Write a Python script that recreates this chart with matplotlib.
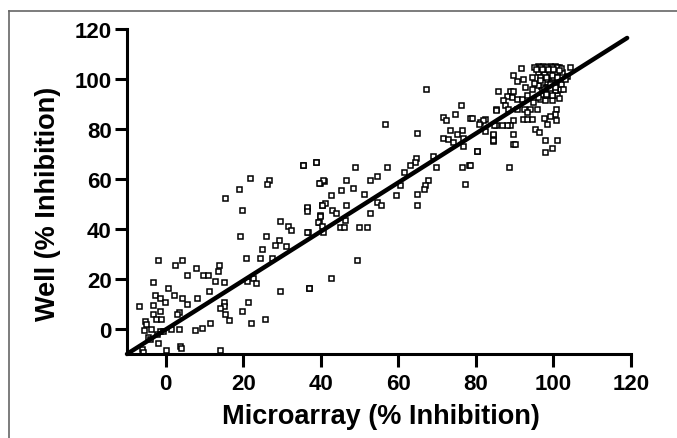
import matplotlib
matplotlib.use("Agg")
import matplotlib.pyplot as plt
from matplotlib.lines import Line2D

# Microarray vs well % inhibition
micro = [
    35.5, 38.7, 21.6, 26.5, 26.1, 39.8, 40.7, 19.0, 15.3, 19.6, 36.4, 40.3,
    29.5, 31.5, 32.3, 39.8, 39.4, 36.6, 19.2, 25.8, 29.1, 28.2, 31.1, 24.8,
    20.6, 24.3, 27.5, -2.1, 2.4, 4.3, 7.9, 13.8, 13.4, 5.4, 9.7, 11.0,
    12.6, 14.9, 22.6, 23.2, 20.9, -3.4, 0.5, 11.1, 29.5, 37.0, -6.9, -2.9,
    -1.6, -0.2, 2.2, 4.1, 5.4, 8.0, -3.4, -3.4, -1.5, -2.5, -1.2, 3.3,
    3.0, 14.9, 15.1, 14.0, 15.3, 16.2, 21.3, 19.7, 22.0, 25.6, -5.3, -5.2,
    -5.5, -3.8, -1.6, -0.6, 1.4, 3.3, 7.6, 9.3, 11.3, -4.7, -4.0, -2.3,
    -2.1, 0.1, 3.7, 4.0, -6.2, -5.8, 14.0,
    76.1, 71.6, 72.4, 74.6, 78.6, 81.0, 82.3, 85.2, 85.3, 56.5, 64.7, 73.3,
    76.3, 75.0, 71.6, 72.9, 74.2, 76.7, 76.6, 80.3, 82.3, 84.3, 84.5, 35.4,
    38.7, 48.9, 57.1, 64.5, 64.3, 63.0, 68.8, 69.7, 76.5, 78.3, 77.2, 40.6,
    39.6, 46.4, 48.3, 45.3, 52.6, 54.5, 61.4, 60.4, 67.7, 66.8, 66.6, 64.7,
    64.7, 51.2, 59.5, 42.6, 54.4, 55.6, 46.6, 36.3, 36.5, 41.0, 40.2, 42.8,
    43.9, 39.9, 52.8, 46.2, 39.3, 40.2, 44.9, 45.9, 49.9, 51.8, 36.5, 40.6,
    49.2, 42.6, 37.0, 67.0,
    91.5, 89.6, 90.7, 92.2, 92.6, 94.4, 96.1, 97.4, 99.1, 100.4, 101.3, 97.0,
    99.1, 104.3, 102.1, 103.4, 85.8, 88.8, 89.6, 87.9, 89.2, 90.5, 91.8, 93.1,
    87.1, 87.5, 85.3, 88.3, 92.4, 93.9, 95.7, 94.8, 96.5, 97.8, 99.5, 100.8,
    101.7, 100.4, 98.2, 96.9, 99.1, 100.6, 100.4, 99.1, 97.5, 98.4, 100.6, 92.2,
    93.1, 94.4, 95.2, 96.3, 89.6, 88.8, 87.9, 86.6, 89.5, 89.5, 84.5, 84.3,
    84.6, 81.9, 80.9, 78.9, 80.2, 78.5, 88.6, 97.8, 101.0, 99.5, 97.9, 93.1,
    90.5, 90.0,
    95.0, 96.5, 98.0, 99.5, 101.0, 102.0, 96.0, 97.5, 99.0, 100.5, 98.0, 99.5,
    101.0, 97.0, 96.0, 98.5, 100.0, 102.0, 97.0, 99.0, 100.5, 98.0, 96.0, 101.5,
    103.0, 99.0, 100.0,
    95.5, 97.0, 98.5, 100.0, 101.5, 96.5, 98.0, 99.5, 101.0, 97.5, 99.0, 100.5,
    95.0, 96.5, 98.0, 99.5, 102.5, 94.5,
]
well = [
    65.6, 67.0, 60.6, 59.7, 58.0, 58.4, 59.3, 56.1, 52.4, 47.6, 48.4, 49.5,
    43.4, 41.1, 39.7, 45.5, 42.8, 38.9, 37.4, 37.4, 35.8, 33.6, 33.3, 32.1,
    28.3, 28.3, 28.5, 27.6, 25.7, 27.6, 24.5, 25.6, 23.2, 21.6, 21.6, 21.6,
    19.2, 18.7, 20.6, 18.6, 19.2, 18.7, 16.6, 15.3, 15.3, 16.6, 9.3, 13.7,
    12.6, 11.0, 13.5, 12.6, 10.2, 12.6, 9.6, 6.2, 7.3, 4.0, 4.0, 7.0,
    6.0, 11.0, 9.3, 8.6, 6.0, 3.6, 11.0, 7.3, 2.4, 4.1, 3.3, 2.0,
    -0.4, 0.0, -0.7, -0.7, 0.0, 0.0, -0.4, 0.4, 2.4, -3.3, -4.0, -2.0,
    -5.7, -8.3, -6.6, -7.5, -7.9, -9.0, -8.3,
    89.8, 84.9, 83.6, 86.0, 84.6, 82.7, 84.0, 88.0, 81.6, 81.9, 78.5, 79.6,
    79.6, 77.9, 76.6, 76.0, 74.7, 76.3, 73.4, 71.4, 79.2, 77.6, 75.4, 65.7,
    67.0, 65.0, 65.0, 68.6, 67.0, 65.7, 69.4, 65.0, 65.0, 65.7, 58.1, 59.7,
    58.4, 59.7, 56.4, 55.5, 59.7, 61.4, 63.0, 57.5, 59.7, 57.7, 56.1, 54.1,
    49.5, 54.1, 53.5, 53.5, 50.8, 49.8, 49.5, 48.7, 47.1, 50.4, 49.5, 47.8,
    46.5, 45.4, 46.5, 43.8, 42.9, 41.2, 40.9, 40.9, 40.9, 40.9, 38.8, 38.9,
    27.5, 20.6, 16.6, 96.0,
    104.3, 101.7, 99.4, 100.1, 96.8, 100.8, 105.4, 105.4, 105.4, 105.4, 105.0, 103.4,
    104.0, 104.7, 102.7, 101.4, 95.4, 95.4, 95.4, 93.2, 92.8, 91.9, 92.1, 93.5,
    91.5, 89.5, 87.8, 88.2, 87.9, 88.2, 87.9, 90.8, 92.1, 91.5, 91.5, 93.5,
    96.1, 97.4, 98.8, 97.4, 94.8, 87.9, 86.2, 85.2, 84.4, 82.2, 83.8, 84.2,
    84.2, 84.2, 80.2, 78.9, 83.5, 81.5, 81.8, 81.8, 78.2, 74.2, 78.2, 75.6,
    81.5, 83.8, 82.2, 84.4, 71.2, 65.6, 65.0, 75.6, 75.8, 72.5, 70.7, 86.8,
    88.2, 73.9,
    105.0, 105.0, 105.0, 105.0, 105.0, 104.5, 103.0, 102.0, 102.5, 103.0, 100.0, 100.5,
    99.5, 99.0, 97.5, 97.0, 97.5, 98.0, 95.5, 95.0, 95.5, 93.5, 93.0, 92.5,
    100.0, 98.0, 101.0,
    104.0, 104.0, 104.0, 104.0, 103.5, 101.0, 101.0, 101.5, 101.0, 96.0, 96.5, 97.0,
    98.5, 99.5, 94.0, 93.5, 96.0, 96.0,
]

# linear fit line shown on the chart
slope = 0.98
intercept = -0.2
fit_x = [-10, 119]
fit_y = [slope * v + intercept for v in fit_x]

xticks = [0, 20, 40, 60, 80, 100, 120]
yticks = [0, 20, 40, 60, 80, 100, 120]

plt.rcParams['font.family'] = ['Liberation Sans', 'DejaVu Sans']

fig = plt.figure(figsize=(6.77, 4.39), dpi=100)
ax = fig.add_axes([127 / 677, 1 - 355 / 439, 504 / 677, 325 / 439])

ax.plot(micro, well, linestyle='none', marker='s', markersize=3.6,
        markerfacecolor='white', markeredgecolor='black', markeredgewidth=1.1,
        clip_on=False, zorder=2)
ax.plot(fit_x, fit_y, color='black', linewidth=3.2, solid_capstyle='round', zorder=3,
        clip_on=False)

ax.set_xlim(-10, 120)
ax.set_ylim(-10, 120)
ax.set_xticks(xticks)
ax.set_yticks(yticks)

for side in ['top', 'right']:
    ax.spines[side].set_visible(False)
for side in ['left', 'bottom']:
    ax.spines[side].set_linewidth(2.2)

ax.tick_params(axis='both', direction='out', length=9, width=2.2, labelsize=16)
ax.tick_params(axis='x', pad=5)
ax.tick_params(axis='y', pad=2)
for lab in ax.get_xticklabels() + ax.get_yticklabels():
    lab.set_fontweight('bold')

ax.set_xlabel('Microarray (% Inhibition)', fontsize=19.5, fontweight='bold', va='center')
ax.xaxis.set_label_coords(0.503, -0.19)
ax.set_ylabel('Well (% Inhibition)', fontsize=19.5, fontweight='bold', va='center')
ax.yaxis.set_label_coords(-0.157, 0.465)

# thin frame around the figure (top and left edges visible)
fig.add_artist(Line2D([9 / 677, 1], [1 - 11.5 / 439, 1 - 11.5 / 439], color='#666666', linewidth=1.2))
fig.add_artist(Line2D([9 / 677, 9 / 677], [0, 1 - 11.5 / 439], color='#666666', linewidth=1.2))

fig.savefig('out.png', dpi=100)
